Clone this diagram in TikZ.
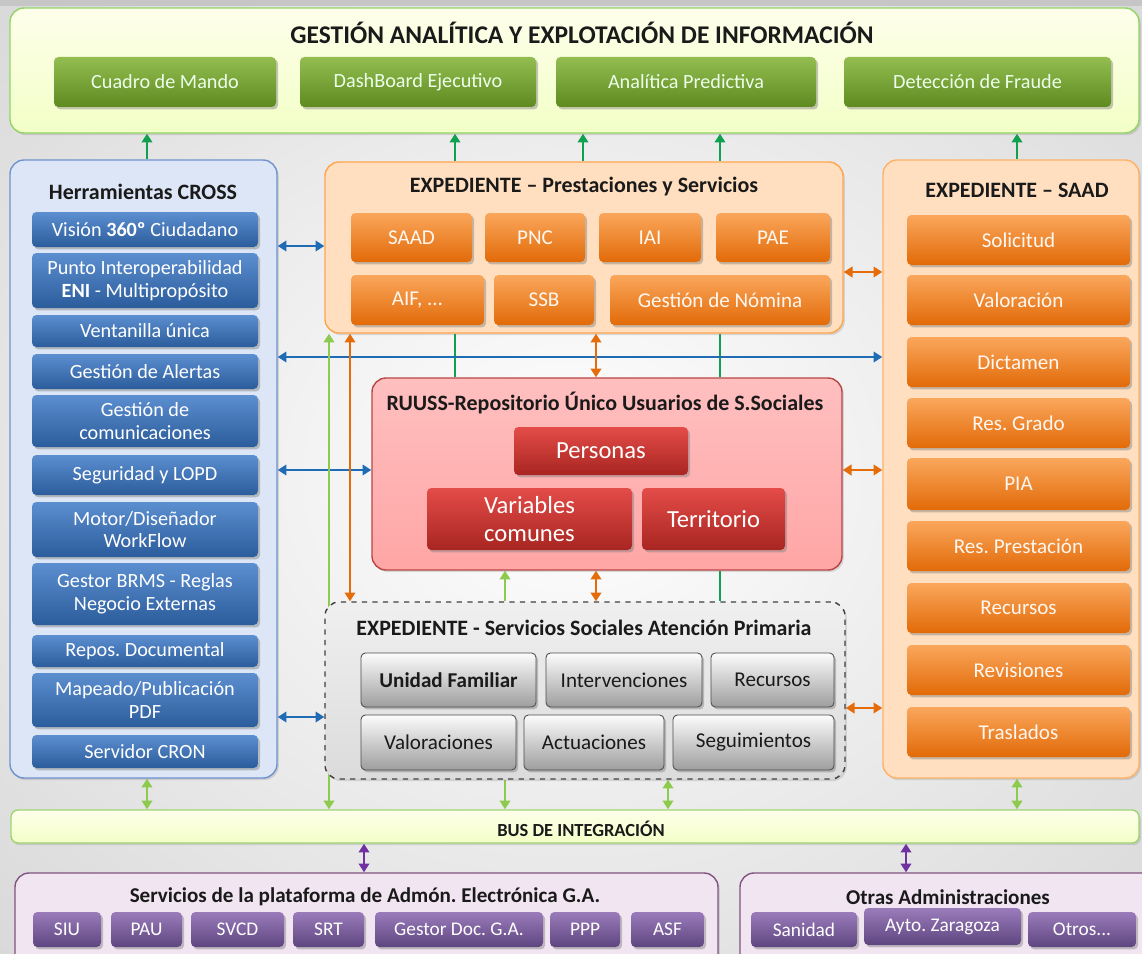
\documentclass[tikz,border=0pt]{standalone}
\usepackage{fontspec}
\setmainfont{Carlito}
\usetikzlibrary{arrows.meta,shadows}

\definecolor{grnT}{HTML}{93BD50}
\definecolor{grnB}{HTML}{5E8A20}
\definecolor{bluT}{HTML}{5C8FD0}
\definecolor{bluB}{HTML}{2B5C9C}
\definecolor{orgT}{HTML}{FAA75C}
\definecolor{orgB}{HTML}{E26A08}
\definecolor{redT}{HTML}{E44C48}
\definecolor{redB}{HTML}{A82521}
\definecolor{gryT}{HTML}{FCFCFC}
\definecolor{gryB}{HTML}{9E9E9E}
\definecolor{purT}{HTML}{9A7CBA}
\definecolor{purB}{HTML}{5E4580}
\definecolor{herrF}{HTML}{DCE6F6}
\definecolor{herrD}{HTML}{6F93CF}
\definecolor{blueln}{HTML}{1F6CB4}
\definecolor{orgln}{HTML}{E46C0A}
\definecolor{dgrln}{HTML}{10A050}
\definecolor{lgrln}{HTML}{8CCB4E}
\definecolor{purln}{HTML}{7030A0}
\definecolor{ink}{HTML}{1A1A1A}

\pgfdeclarelayer{back}
\pgfdeclarelayer{wires}
\pgfsetlayers{back,wires,main}

% caja por esquinas: estilo, nombre, x1, y1, x2, y2, texto
\newcommand{\boxat}[7]{\node[#1, minimum width={(#5-#3)*0.02cm}, minimum height={(#6-#4)*0.02cm}] (#2) at ({(#3+#5)/2},{(#4+#6)/2}) {#7};}

\tikzset{
  cont/.style={rounded corners=8pt, inner sep=0pt, line width=0.8pt,
    drop shadow={shadow xshift=1pt, shadow yshift=-1.2pt, opacity=.25}},
  btn/.style={rounded corners=2.5pt, inner sep=0pt, align=center,
    font=\fontsize{12}{13.5}\selectfont,
    drop shadow={shadow xshift=1.2pt, shadow yshift=-1.4pt, opacity=.45}},
  gbtn/.style={btn, top color=grnT, bottom color=grnB, text=green!8!white, font=\fontsize{11.5}{13}\selectfont},
  bbtn/.style={btn, top color=bluT, bottom color=bluB, text=white, font=\fontsize{11.5}{13}\selectfont},
  obtn/.style={btn, top color=orgT, bottom color=orgB, text=orange!6!white},
  rbtn/.style={btn, top color=redT, bottom color=redB, text=white, font=\fontsize{14}{16}\selectfont},
  wbtn/.style={btn, top color=gryT, bottom color=gryB, draw=black!70, line width=0.5pt, text=ink},
  pbtn/.style={btn, top color=purT, bottom color=purB, text=white, font=\fontsize{11}{12}\selectfont},
  ttl/.style={text=ink, font=\bfseries\fontsize{12.5}{14}\selectfont},
  blu/.style={draw=blueln, line width=1.6pt},
  org/.style={draw=orgln, line width=1.6pt},
  dgr/.style={draw=dgrln, line width=1.6pt},
  lgr/.style={draw=lgrln, line width=1.2pt},
  pur/.style={draw=purln, line width=1.4pt},
}

\begin{document}
\frenchspacing
\begin{tikzpicture}[x=0.02cm, y=-0.02cm, >={Triangle[length=5pt,width=6pt]}]
\clip (0,0) rectangle (1142,953);
\begin{pgfonlayer}{back}
  \shade[inner color=white, outer color=gray!30] (-250,-200) rectangle (1392,1153);
  \fill[gray!45] (0,0) rectangle (1142,6);
\end{pgfonlayer}

% analitica
\boxat{cont, draw=green!45!olive!60, top color=green!8!yellow!8!white, bottom color=green!22!yellow!22!white}{top}{10}{8}{1139}{133}{}
\node[ttl, font=\bfseries\fontsize{14.5}{16}\selectfont] (topT) at (582,33) {GESTIÓN ANALÍTICA Y EXPLOTACIÓN DE INFORMACIÓN};
\boxat{gbtn}{cuadro}{54}{57}{276}{107}{Cuadro de Mando}
\boxat{gbtn}{dash}{300}{57}{536}{107}{DashBoard Ejecutivo}
\boxat{gbtn}{analit}{556}{57}{816}{107}{Analítica Predictiva}
\boxat{gbtn}{fraude}{844}{57}{1111}{107}{Detección de Fraude}

% herramientas cross
\boxat{cont, draw=herrD, fill=herrF}{herr}{10}{160}{277}{778}{}
\node[ttl] (herrT) at (143,192) {Herramientas CROSS};
\boxat{bbtn}{vision}{32}{212}{258}{247}{Visión \textbf{360º} Ciudadano}
\boxat{bbtn}{punto}{32}{253}{258}{308}{Punto Interoperabilidad\\\textbf{ENI} - Multipropósito}
\boxat{bbtn}{ventan}{32}{315}{258}{347}{Ventanilla única}
\boxat{bbtn}{alertas}{32}{354}{258}{389}{Gestión de Alertas}
\boxat{bbtn}{comunic}{32}{395}{258}{447}{Gestión de\\comunicaciones}
\boxat{bbtn}{segur}{32}{455}{258}{495}{Seguridad y LOPD}
\boxat{bbtn}{motor}{32}{502}{258}{557}{Motor/Diseñador\\WorkFlow}
\boxat{bbtn}{brms}{32}{563}{258}{625}{Gestor BRMS - Reglas\\Negocio Externas}
\boxat{bbtn}{repos}{32}{635}{258}{667}{Repos. Documental}
\boxat{bbtn}{mapeado}{32}{673}{258}{727}{Mapeado/Publicación\\PDF}
\boxat{bbtn}{cron}{32}{735}{258}{768}{Servidor CRON}

% prestaciones
\boxat{cont, draw=orange!70, fill=orange!25!white}{prest}{325}{162}{843}{333}{}
\node[ttl] (prestT) at (584,187) {EXPEDIENTE – Prestaciones y Servicios};
\boxat{obtn}{psaad}{351}{213}{472}{262}{SAAD}
\boxat{obtn}{pnc}{485}{213}{585}{262}{PNC}
\boxat{obtn}{iai}{599}{213}{701}{262}{IAI}
\boxat{obtn}{pae}{716}{213}{830}{262}{PAE}
\boxat{obtn}{aif}{351}{275}{484}{325}{AIF, ...}
\boxat{obtn}{ssb}{494}{275}{594}{325}{SSB}
\boxat{obtn}{nomina}{610}{275}{830}{325}{Gestión de Nómina}

% saad
\boxat{cont, draw=orange!60, fill=orange!25!white}{saad}{883}{160}{1139}{778}{}
\node[ttl] (saadT) at (1017,190) {EXPEDIENTE – SAAD};
\boxat{obtn}{solic}{907}{215}{1130}{265}{Solicitud}
\boxat{obtn}{valor}{907}{275}{1130}{325}{Valoración}
\boxat{obtn}{dictam}{907}{337}{1130}{387}{Dictamen}
\boxat{obtn}{resgr}{907}{398}{1130}{448}{Res. Grado}
\boxat{obtn}{pia}{907}{458}{1130}{510}{PIA}
\boxat{obtn}{respr}{907}{521}{1130}{571}{Res. Prestación}
\boxat{obtn}{recur}{907}{583}{1130}{633}{Recursos}
\boxat{obtn}{revis}{907}{645}{1130}{695}{Revisiones}
\boxat{obtn}{trasl}{907}{707}{1130}{757}{Traslados}

% ruuss
\boxat{cont, draw=red!45!gray, top color=red!25!white, bottom color=red!35!white}{ruuss}{372}{378}{842}{570}{}
\node[ttl] (ruussT) at (605,403) {RUUSS-Repositorio Único Usuarios de S.Sociales};
\boxat{rbtn}{personas}{514}{427}{688}{475}{Personas}
\boxat{rbtn}{variab}{427}{488}{632}{550}{Variables\\comunes}
\boxat{rbtn}{territ}{642}{488}{785}{550}{Territorio}

% atencion primaria
\boxat{cont, draw=black!75, dashed, top color=gray!12, bottom color=gray!28}{aprim}{325}{602}{845}{779}{}
\node[ttl] (aprimT) at (584,628) {EXPEDIENTE - Servicios Sociales Atención Primaria};
\boxat{wbtn, font=\bfseries\fontsize{12}{13.5}\selectfont}{unidad}{361}{653}{536}{707}{Unidad Familiar}
\boxat{wbtn}{interv}{546}{653}{702}{707}{Intervenciones}
\boxat{wbtn}{recap}{711}{653}{834}{707}{Recursos}
\boxat{wbtn}{valap}{361}{715}{516}{770}{Valoraciones}
\boxat{wbtn}{actu}{524}{715}{664}{770}{Actuaciones}
\boxat{wbtn}{segui}{673}{715}{834}{770}{Seguimientos}

% bus
\boxat{cont, draw=green!40!olive!55, top color=green!5!yellow!8!white, bottom color=green!22!yellow!22!white, rounded corners=4pt}{bus}{11}{810}{1139}{843}{}
\node[ttl, font=\bfseries\fontsize{10.5}{12}\selectfont] (busT) at (581,829) {BUS DE INTEGRACIÓN};

% administraciones
\boxat{cont, draw=violet!35!gray, fill=violet!10!white}{padm}{15}{873}{718}{990}{}
\node[ttl, font=\bfseries\fontsize{12}{13.5}\selectfont] (padmT) at (365,897) {Servicios de la plataforma de Admón. Electrónica G.A.};
\boxat{pbtn}{siu}{33}{912}{101}{947}{SIU}
\boxat{pbtn}{pau}{111}{912}{182}{947}{PAU}
\boxat{pbtn}{svcd}{191}{912}{284}{947}{SVCD}
\boxat{pbtn}{srt}{293}{912}{364}{947}{SRT}
\boxat{pbtn}{gestor}{375}{912}{543}{947}{Gestor Doc. G.A.}
\boxat{pbtn}{ppp}{550}{912}{620}{947}{PPP}
\boxat{pbtn}{asf}{631}{912}{704}{947}{ASF}
\boxat{cont, draw=violet!35!gray, fill=violet!10!white}{otras}{740}{873}{1170}{990}{}
\node[ttl, font=\bfseries\fontsize{12}{13.5}\selectfont] (otrasT) at (948,897) {Otras Administraciones};
\boxat{pbtn}{sanidad}{751}{912}{857}{947}{Sanidad}
\boxat{pbtn}{ayto}{864}{908}{1021}{945}{Ayto. Zaragoza}
\boxat{pbtn}{otros}{1028}{912}{1136}{947}{Otros...}

% carriles
\coordinate (lnH) at (147,0);
\coordinate (lnG) at (329,0);
\coordinate (lnO) at (350,0);
\coordinate (lnQ) at (364,0);
\coordinate (lnB) at (455,0);
\coordinate (lnL) at (505,0);
\coordinate (lnC) at (583,0);
\coordinate (lnP) at (596,0);
\coordinate (lnM) at (668,0);
\coordinate (lnD) at (720,0);
\coordinate (lnR) at (906,0);
\coordinate (lnE) at (1017,0);
\coordinate (rwA) at (0,246);
\coordinate (rwB) at (0,272);
\coordinate (rwC) at (0,357);
\coordinate (rwD) at (0,470);
\coordinate (rwE) at (0,708);
\coordinate (rwF) at (0,717);

\begin{pgfonlayer}{wires}
  % hacia analitica
  \draw[dgr,->] (lnH |- herr.north) -- (lnH |- top.south);
  \draw[dgr,->] (lnB |- prest.north) -- (lnB |- top.south);
  \draw[dgr,->] (lnC |- prest.north) -- (lnC |- top.south);
  \draw[dgr,->] (lnD |- prest.north) -- (lnD |- top.south);
  \draw[dgr,->] (lnE |- saad.north) -- (lnE |- top.south);
  \draw[dgr] (lnB |- prest.south) -- (lnB |- ruuss.north);
  \draw[dgr] (lnD |- prest.south) -- (lnD |- ruuss.north);
  \draw[dgr] (lnD |- ruuss.south) -- (lnD |- aprim.north);
  % azul
  \draw[blu,<->] (herr.east |- rwA) -- (prest.west |- rwA);
  \draw[blu,<->] (herr.east |- rwC) -- (saad.west |- rwC);
  \draw[blu,<->] (herr.east |- rwD) -- (ruuss.west |- rwD);
  \draw[blu,<->] (herr.east |- rwF) -- (aprim.west |- rwF);
  % naranja
  \draw[org,<->] (prest.east |- rwB) -- (saad.west |- rwB);
  \draw[org,<->] (ruuss.east |- rwD) -- (saad.west |- rwD);
  \draw[org,<->] (aprim.east |- rwE) -- (saad.west |- rwE);
  \draw[org,<->] (lnO |- prest.south) -- (lnO |- aprim.north);
  \draw[org,<->] (lnP |- prest.south) -- (lnP |- ruuss.north);
  \draw[org,<->] (lnP |- ruuss.south) -- (lnP |- aprim.north);
  % bus
  \draw[lgr,<->] (lnG |- prest.south) -- (lnG |- bus.north);
  \draw[lgr,->] (lnL |- aprim.north) -- (lnL |- ruuss.south);
  \draw[lgr,->] (lnL |- aprim.south) -- (lnL |- bus.north);
  \draw[lgr,<->] (lnH |- herr.south) -- (lnH |- bus.north);
  \draw[lgr,<->] (lnM |- aprim.south) -- (lnM |- bus.north);
  \draw[lgr,<->] (lnE |- saad.south) -- (lnE |- bus.north);
  \draw[pur,<->] (lnQ |- bus.south) -- (lnQ |- padm.north);
  \draw[pur,<->] (lnR |- bus.south) -- (lnR |- otras.north);
\end{pgfonlayer}
\end{tikzpicture}
\end{document}
